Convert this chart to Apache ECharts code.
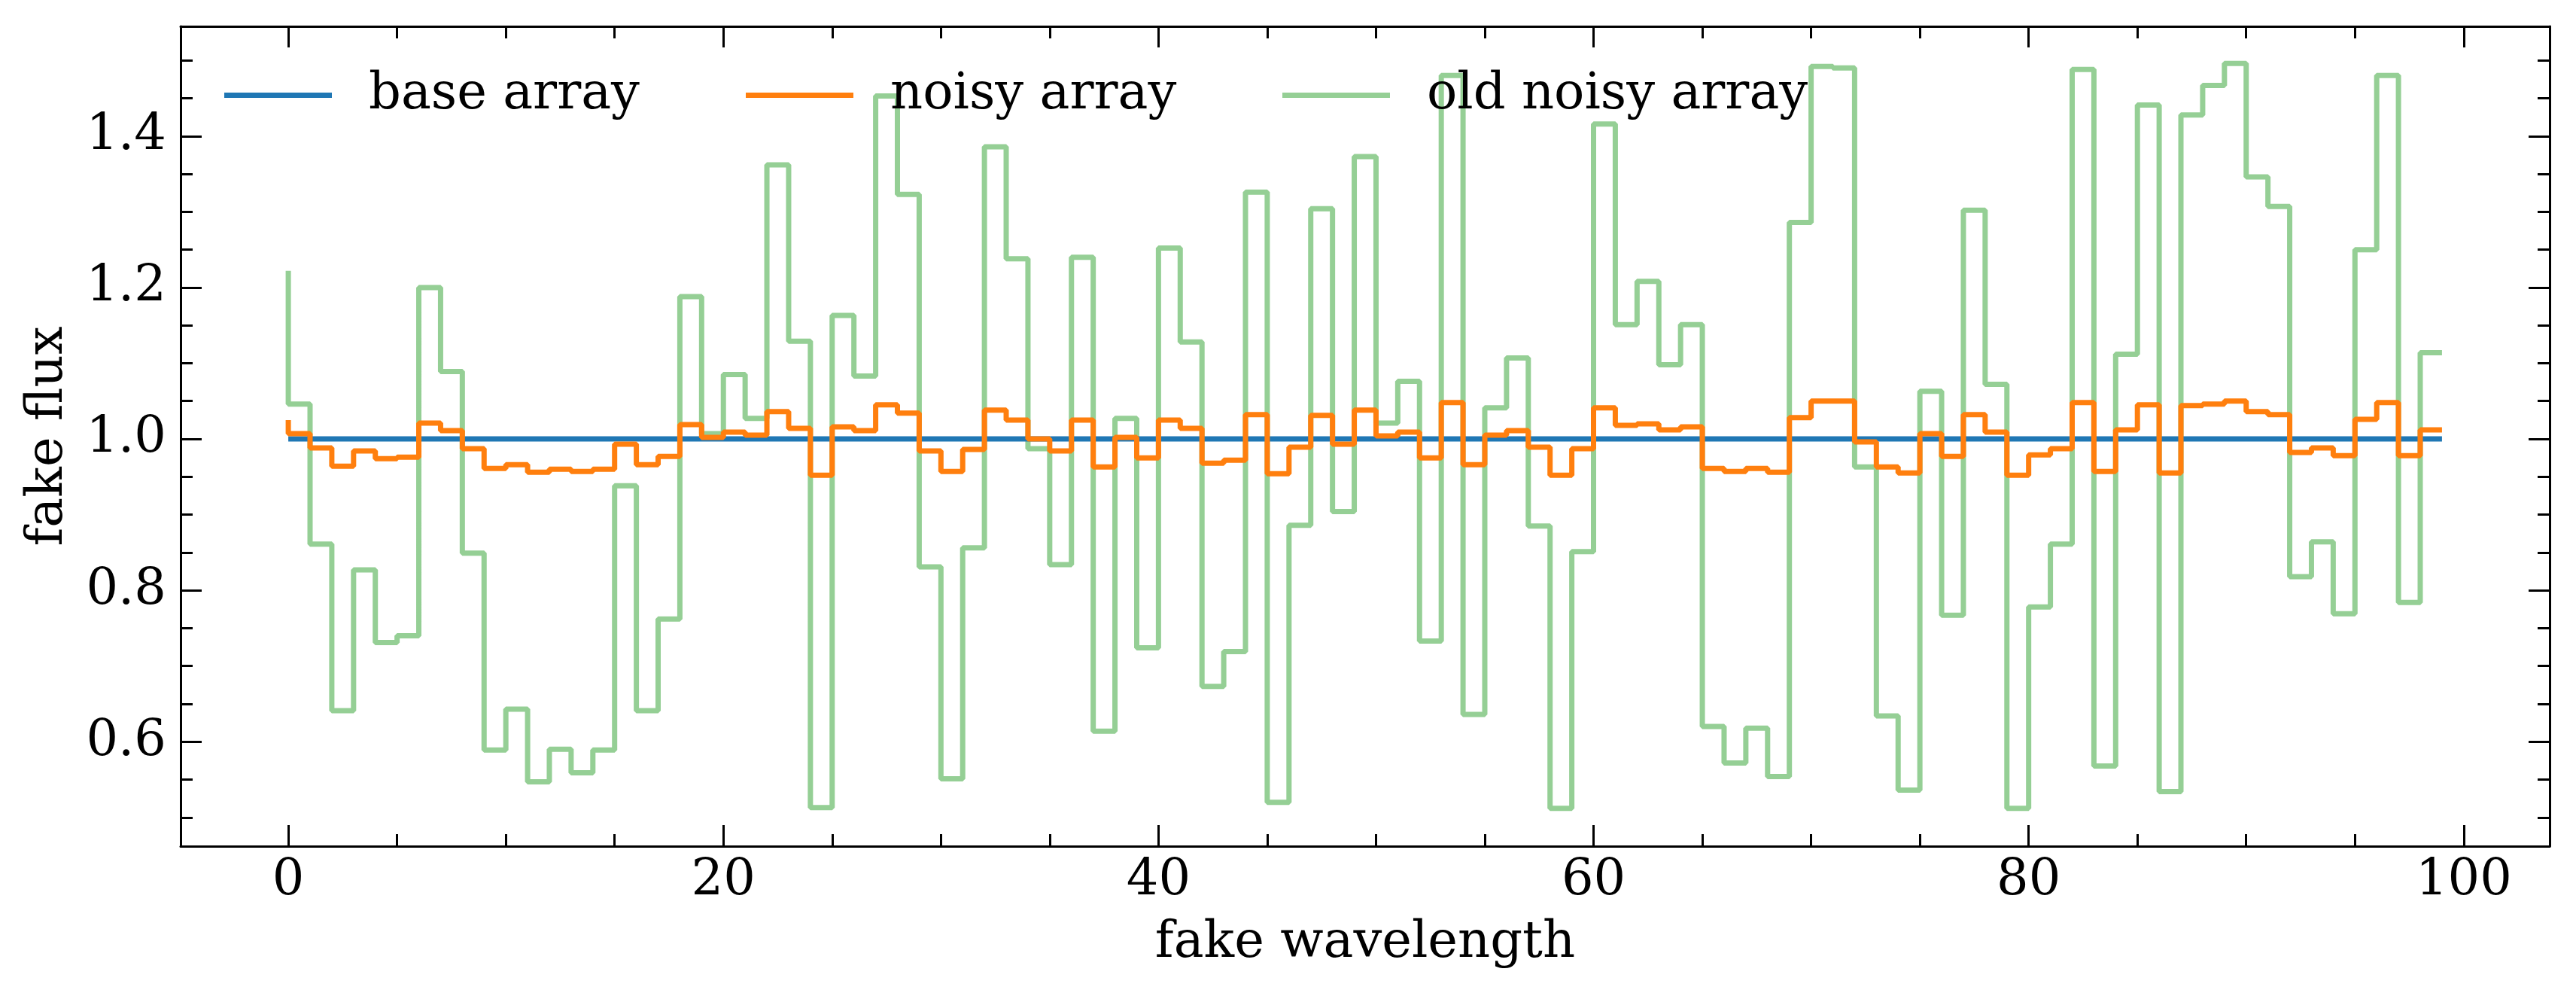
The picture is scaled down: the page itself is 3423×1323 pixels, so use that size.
<!DOCTYPE html>
<html lang="en">
<head>
    <meta charset="UTF-8">
    <title>fake flux vs fake wavelength</title>
    <script src="https://cdn.jsdelivr.net/npm/echarts/dist/echarts.min.js"></script>
    <style>
        body {
            margin: 0;
            padding: 0;
            background-color: #ffffff;
        }
        #chart {
            width: 3423px;
            height: 1323px;
        }
    </style>
</head>
<body>

<div id="chart"></div>

<script>
// x positions (fake wavelength)
var wavelength = [
    0, 1, 2, 3, 4, 5, 6, 7, 8, 9, 10, 11, 12, 13, 14, 15, 16, 17, 18, 19,
    20, 21, 22, 23, 24, 25, 26, 27, 28, 29, 30, 31, 32, 33, 34, 35, 36, 37, 38, 39,
    40, 41, 42, 43, 44, 45, 46, 47, 48, 49, 50, 51, 52, 53, 54, 55, 56, 57, 58, 59,
    60, 61, 62, 63, 64, 65, 66, 67, 68, 69, 70, 71, 72, 73, 74, 75, 76, 77, 78, 79,
    80, 81, 82, 83, 84, 85, 86, 87, 88, 89, 90, 91, 92, 93, 94, 95, 96, 97, 98, 99
];

var baseArray = [
    1, 1, 1, 1, 1, 1, 1, 1, 1, 1, 1, 1, 1, 1, 1, 1, 1, 1, 1, 1,
    1, 1, 1, 1, 1, 1, 1, 1, 1, 1, 1, 1, 1, 1, 1, 1, 1, 1, 1, 1,
    1, 1, 1, 1, 1, 1, 1, 1, 1, 1, 1, 1, 1, 1, 1, 1, 1, 1, 1, 1,
    1, 1, 1, 1, 1, 1, 1, 1, 1, 1, 1, 1, 1, 1, 1, 1, 1, 1, 1, 1,
    1, 1, 1, 1, 1, 1, 1, 1, 1, 1, 1, 1, 1, 1, 1, 1, 1, 1, 1, 1
];

var noisyArray = [
    1.025, 1.007, 0.988, 0.964, 0.984, 0.974, 0.976, 1.021, 1.011, 0.987,
    0.961, 0.966, 0.956, 0.960, 0.957, 0.960, 0.993, 0.966, 0.977, 1.019,
    1.002, 1.009, 1.005, 1.036, 1.014, 0.952, 1.016, 1.011, 1.045, 1.034,
    0.984, 0.957, 0.986, 1.038, 1.025, 1.000, 0.984, 1.025, 0.963, 1.002,
    0.975, 1.025, 1.014, 0.968, 0.972, 1.032, 0.954, 0.989, 1.031, 0.993,
    1.038, 1.004, 1.009, 0.975, 1.048, 0.966, 1.005, 1.011, 0.989, 0.952,
    0.987, 1.041, 1.018, 1.020, 1.012, 1.016, 0.961, 0.957, 0.961, 0.956,
    1.028, 1.050, 1.050, 0.996, 0.963, 0.955, 1.007, 0.977, 1.032, 1.009,
    0.952, 0.979, 0.987, 1.048, 0.957, 1.012, 1.045, 0.955, 1.044, 1.046,
    1.050, 1.036, 1.032, 0.982, 0.988, 0.978, 1.026, 1.048, 0.978, 1.012
];

var oldNoisyArray = [
    1.222, 1.046, 0.861, 0.641, 0.827, 0.731, 0.740, 1.200, 1.089, 0.849,
    0.589, 0.643, 0.547, 0.590, 0.559, 0.589, 0.938, 0.641, 0.762, 1.188,
    1.007, 1.085, 1.027, 1.362, 1.129, 0.513, 1.163, 1.083, 1.453, 1.323,
    0.831, 0.551, 0.856, 1.386, 1.238, 0.987, 0.834, 1.240, 0.614, 1.027,
    0.724, 1.252, 1.128, 0.673, 0.719, 1.326, 0.520, 0.886, 1.304, 0.904,
    1.373, 1.021, 1.076, 0.733, 1.480, 0.636, 1.041, 1.107, 0.885, 0.512,
    0.851, 1.416, 1.151, 1.208, 1.098, 1.151, 0.620, 0.572, 0.618, 0.554,
    1.286, 1.492, 1.490, 0.963, 0.634, 0.536, 1.063, 0.767, 1.302, 1.072,
    0.512, 0.778, 0.861, 1.488, 0.568, 1.112, 1.441, 0.534, 1.428, 1.467,
    1.496, 1.346, 1.307, 0.818, 0.864, 0.769, 1.250, 1.480, 0.784, 1.114
];

var seriesNames = ['base array', 'noisy array', 'old noisy array'];

// tick positions
var xMajorTicks = [0, 20, 40, 60, 80, 100];
var xMinorTicks = [5, 10, 15, 25, 30, 35, 45, 50, 55, 65, 70, 75, 85, 90, 95];
var yMajorTicks = [0.6, 0.8, 1.0, 1.2, 1.4];
var yMinorTicks = [0.5, 0.55, 0.65, 0.7, 0.75, 0.85, 0.9, 0.95, 1.05, 1.1, 1.15, 1.25, 1.3, 1.35, 1.45, 1.5];

var X_MIN = -4.95, X_MAX = 103.95;
var Y_MIN = 0.462, Y_MAX = 1.545;

var FONT = 'DejaVu Serif';
var FS = 67;

function pairs(ys) {
    return wavelength.map(function (x, i) { return [x, ys[i]]; });
}

// one axis = one set of ticks (major / minor, per side)
function makeAxis(pos, min, max, ticks, len, withLine) {
    return {
        type: 'value',
        position: pos,
        min: min,
        max: max,
        gridIndex: 0,
        splitLine: { show: false },
        axisLine: { show: withLine, onZero: false, lineStyle: { color: '#000', width: 3 } },
        axisTick: {
            show: true, inside: true, length: len, customValues: ticks,
            lineStyle: { color: '#000', width: 3 }
        },
        axisLabel: { show: false }
    };
}

var chart = echarts.init(document.getElementById('chart'));

var xBottom = makeAxis('bottom', X_MIN, X_MAX, xMajorTicks, 28, true);
xBottom.axisLabel = {
    show: true, customValues: xMajorTicks, margin: 13,
    fontFamily: FONT, fontSize: FS, color: '#000'
};
xBottom.name = 'fake wavelength';
xBottom.nameLocation = 'middle';
xBottom.nameGap = 96;
xBottom.nameMoveOverlap = false;
xBottom.nameTextStyle = { fontFamily: FONT, fontSize: FS, color: '#000' };

var yLeft = makeAxis('left', Y_MIN, Y_MAX, yMajorTicks, 28, true);
yLeft.axisLabel = {
    show: true, customValues: yMajorTicks, margin: 19,
    padding: [10, 0, 0, 0],
    fontFamily: FONT, fontSize: FS, color: '#000',
    formatter: function (v) { return v.toFixed(1); }
};
yLeft.name = 'fake flux';
yLeft.nameLocation = 'middle';
yLeft.nameGap = 142;
yLeft.nameMoveOverlap = false;
yLeft.nameTextStyle = { fontFamily: FONT, fontSize: FS, color: '#000' };

function makeLegend(name, left) {
    return {
        data: [name],
        left: left,
        top: 93,
        icon: 'rect',
        itemWidth: 143,
        itemHeight: 7,
        selectedMode: false,
        padding: 0,
        textStyle: {
            fontFamily: FONT, fontSize: FS, color: '#000',
            lineHeight: FS, padding: [0, 0, 0, 44]
        }
    };
}

var option = {
    animation: false,
    backgroundColor: '#ffffff',
    grid: { left: 240, right: 35, top: 35, bottom: 199, containLabel: false, outerBoundsMode: 'none' },
    legend: [
        makeLegend(seriesNames[0], 298),
        makeLegend(seriesNames[1], 991),
        makeLegend(seriesNames[2], 1704)
    ],
    xAxis: [
        xBottom,
        makeAxis('bottom', X_MIN, X_MAX, xMinorTicks, 16, false),
        makeAxis('top', X_MIN, X_MAX, xMajorTicks, 28, true),
        makeAxis('top', X_MIN, X_MAX, xMinorTicks, 16, false)
    ],
    yAxis: [
        yLeft,
        makeAxis('left', Y_MIN, Y_MAX, yMinorTicks, 16, false),
        makeAxis('right', Y_MIN, Y_MAX, yMajorTicks, 28, true),
        makeAxis('right', Y_MIN, Y_MAX, yMinorTicks, 16, false)
    ],
    series: [
        {
            name: seriesNames[0], type: 'line', step: 'start',
            data: pairs(baseArray), showSymbol: false, z: 3,
            color: '#1f77b4',
            lineStyle: { color: '#1f77b4', width: 7 }
        },
        {
            name: seriesNames[1], type: 'line', step: 'start',
            data: pairs(noisyArray), showSymbol: false, z: 4,
            color: '#ff7f0e',
            lineStyle: { color: '#ff7f0e', width: 7 }
        },
        {
            // drawn underneath the other two, as in the original
            name: seriesNames[2], type: 'line', step: 'start',
            data: pairs(oldNoisyArray), showSymbol: false, z: 2,
            color: 'rgba(44,160,44,0.5)',
            lineStyle: { color: 'rgba(44,160,44,0.5)', width: 7 }
        }
    ]
};

chart.setOption(option);
</script>

</body>
</html>
